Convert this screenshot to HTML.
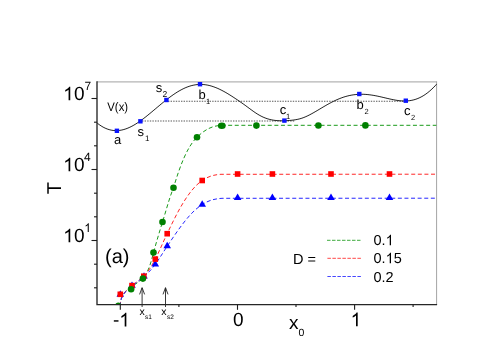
<!DOCTYPE html>
<html>
<head>
<meta charset="utf-8">
<style>
html,body{margin:0;padding:0;background:#fff;}
body{width:485px;height:343px;overflow:hidden;font-family:"Liberation Sans",sans-serif;}
svg{display:block;will-change:transform;}
text{font-family:"Liberation Sans",sans-serif;fill:#000;text-rendering:geometricPrecision;}
</style>
</head>
<body>
<svg width="485" height="343" viewBox="0 0 485 343">
<rect x="0" y="0" width="485" height="343" fill="#fff"/>
<defs>
<clipPath id="plot"><rect x="97" y="82" width="339.6" height="223"/></clipPath>
</defs>

<path d="M97.0 81.9 H436.6" fill="none" stroke="#b4b4b4" stroke-width="1.3"/>
<path d="M436.6 81.30000000000001 V304.6" fill="none" stroke="#a4a4a4" stroke-width="1"/>
<g stroke="#585858" stroke-width="1.1" stroke-dasharray="1.4 1.2" fill="none">
<line x1="142" y1="121" x2="295" y2="121"/>
<line x1="168" y1="101.3" x2="405" y2="101.3"/>
</g>
<path d="M97.1 123.00 L99.1 124.55 L101.1 125.92 L103.1 127.11 L105.1 128.12 L107.1 128.96 L109.1 129.62 L111.1 130.12 L113.1 130.44 L115.1 130.61 L117.1 130.61 L119.1 130.46 L121.1 130.16 L123.1 129.72 L125.1 129.14 L127.1 128.43 L129.1 127.59 L131.1 126.64 L133.1 125.57 L135.1 124.41 L137.1 123.15 L139.1 121.80 L141.1 120.38 L143.1 118.90 L145.1 117.36 L147.1 115.77 L149.1 114.14 L151.1 112.49 L153.1 110.81 L155.1 109.13 L157.1 107.44 L159.1 105.76 L161.1 104.10 L163.1 102.45 L165.1 100.84 L167.1 99.26 L169.1 97.73 L171.1 96.25 L173.1 94.82 L175.1 93.47 L177.1 92.18 L179.1 90.98 L181.1 89.86 L183.1 88.83 L185.1 87.90 L187.1 87.07 L189.1 86.35 L191.1 85.73 L193.1 85.24 L195.1 84.86 L197.1 84.59 L199.1 84.45 L201.1 84.42 L203.1 84.51 L205.1 84.71 L207.1 85.03 L209.1 85.45 L211.1 85.98 L213.1 86.61 L215.1 87.33 L217.1 88.14 L219.1 89.03 L221.1 90.00 L223.1 91.04 L225.1 92.14 L227.1 93.29 L229.1 94.50 L231.1 95.76 L233.1 97.04 L235.1 98.36 L237.1 99.70 L239.1 101.06 L241.1 102.44 L243.1 103.84 L245.1 105.28 L247.1 106.74 L249.1 108.22 L251.1 109.70 L253.1 111.15 L255.1 112.54 L257.1 113.85 L259.1 115.05 L261.1 116.14 L263.1 117.11 L265.1 117.95 L267.1 118.66 L269.1 119.26 L271.1 119.75 L273.1 120.13 L275.1 120.42 L277.1 120.62 L279.1 120.74 L281.1 120.79 L283.1 120.78 L285.1 120.72 L287.1 120.61 L289.1 120.47 L291.1 120.30 L293.1 120.08 L295.1 119.80 L297.1 119.45 L299.1 119.01 L301.1 118.45 L303.1 117.77 L305.1 116.98 L307.1 116.09 L309.1 115.11 L311.1 114.06 L313.1 112.95 L315.1 111.81 L317.1 110.63 L319.1 109.44 L321.1 108.24 L323.1 107.06 L325.1 105.88 L327.1 104.73 L329.1 103.62 L331.1 102.55 L333.1 101.52 L335.1 100.55 L337.1 99.64 L339.1 98.80 L341.1 98.02 L343.1 97.31 L345.1 96.67 L347.1 96.11 L349.1 95.62 L351.1 95.21 L353.1 94.87 L355.1 94.61 L357.1 94.42 L359.1 94.30 L361.1 94.26 L363.1 94.28 L365.1 94.37 L367.1 94.53 L369.1 94.74 L371.1 95.00 L373.1 95.31 L375.1 95.67 L377.1 96.06 L379.1 96.48 L381.1 96.93 L383.1 97.40 L385.1 97.87 L387.1 98.35 L389.1 98.81 L391.1 99.26 L393.1 99.68 L395.1 100.06 L397.1 100.39 L399.1 100.66 L401.1 100.86 L403.1 100.98 L405.1 101.01 L407.1 100.93 L409.1 100.75 L411.1 100.45 L413.1 100.03 L415.1 99.48 L417.1 98.79 L419.1 97.96 L421.1 96.98 L423.1 95.86 L425.1 94.58 L427.1 93.15 L429.1 91.56 L431.1 89.81 L433.1 87.90 L435.1 85.83 L436.6 84.18" fill="none" stroke="#151515" stroke-width="0.95" stroke-linejoin="round"/>
<g fill="#0a14ff">
<rect x="114.7" y="128.6" width="4.4" height="4.4"/>
<rect x="138.2" y="119.1" width="4.4" height="4.4"/>
<rect x="164.2" y="97.8" width="4.4" height="4.4"/>
<rect x="197.8" y="82.0" width="4.4" height="4.4"/>
<rect x="282.2" y="118.4" width="4.4" height="4.4"/>
<rect x="357.1" y="91.8" width="4.4" height="4.4"/>
<rect x="403.6" y="98.5" width="4.4" height="4.4"/>
</g>
<g fill="none" stroke-width="1" stroke-dasharray="4 2.6" clip-path="url(#plot)">
<path d="M120.2 306 C120.3 299 122 295.5 126 291 C130 287 138 283 142.9 278.6 C149 271 151 262 153.5 252.6 C157 240 160 230 162.5 222 C166 211 169 199 173.5 187.7 C180 166 187 147 197 137.2 C205 129.5 212 125.7 221.8 125.3 L436.6 125.3" stroke="#1a9a1a"/>
<path d="M120.2 306 C120.3 299 122 295.5 126 290.8 C130 286.6 138 281.5 143.8 276.2 C149 271.2 152 265 155.3 259.1 C160 250 163 242 167.2 233.7 C176 215 188 190 202.2 180.5 C207 177.3 212 174.8 221 174.3 L436.6 174.2" stroke="#ff2626"/>
<path d="M120.2 306 C120.3 299 122 295.5 126 290.6 C130 286.4 138 281 144 276 C149 271.7 152 268 155.3 263.8 C160 257 163 252 167.2 245.6 C177 231 190 211 202.2 204.1 C207 200.8 212 198.4 222 197.7 L436.6 197.6" stroke="#2626ff" transform="translate(0 0.6)"/>
</g>
<g fill="#0000ff">
<path d="M120.3 290.3 L124.1 296.7 L116.5 296.7 Z"/>
<path d="M132.0 281.4 L135.8 287.8 L128.2 287.8 Z"/>
<path d="M144.0 272.2 L147.8 278.6 L140.2 278.6 Z"/>
<path d="M155.3 260.0 L159.1 266.4 L151.5 266.4 Z"/>
<path d="M167.2 241.8 L171.0 248.2 L163.4 248.2 Z"/>
<path d="M202.2 200.3 L206.0 206.7 L198.4 206.7 Z"/>
<path d="M237.6 193.6 L241.4 200.0 L233.8 200.0 Z"/>
<path d="M272.4 193.6 L276.2 200.0 L268.6 200.0 Z"/>
<path d="M331.0 193.6 L334.8 200.0 L327.2 200.0 Z"/>
<path d="M389.5 193.6 L393.3 200.0 L385.7 200.0 Z"/>
</g>
<g fill="#ff0000">
<rect x="117.5" y="291.5" width="5.6" height="5.6"/>
<rect x="129.2" y="282.8" width="5.6" height="5.6"/>
<rect x="141.0" y="273.4" width="5.6" height="5.6"/>
<rect x="152.5" y="256.3" width="5.6" height="5.6"/>
<rect x="164.4" y="230.9" width="5.6" height="5.6"/>
<rect x="199.4" y="177.7" width="5.6" height="5.6"/>
<rect x="234.8" y="171.2" width="5.6" height="5.6"/>
<rect x="269.6" y="171.2" width="5.6" height="5.6"/>
<rect x="328.2" y="171.2" width="5.6" height="5.6"/>
<rect x="386.7" y="171.2" width="5.6" height="5.6"/>
</g>
<g fill="#008000" clip-path="url(#plot)">
<circle cx="118.4" cy="305.8" r="3.3"/>
<circle cx="131.1" cy="289.2" r="3.3"/>
<circle cx="142.9" cy="278.6" r="3.3"/>
<circle cx="153.5" cy="252.6" r="3.3"/>
<circle cx="162.5" cy="222" r="3.3"/>
<circle cx="173.5" cy="187.7" r="3.3"/>
<circle cx="197" cy="137.2" r="3.3"/>
<ellipse cx="221.8" cy="125.7" rx="3.9" ry="3.3"/>
<circle cx="256.4" cy="125.6" r="3.3"/>
<circle cx="318.4" cy="125.5" r="3.3"/>
<circle cx="365.4" cy="125.4" r="3.3"/>
</g>
<path d="M97.0 81.30000000000001 V304.6 H437.1" fill="none" stroke="#262626" stroke-width="1.35"/>
<g stroke="#1c1c1c" stroke-width="1.1">
<line x1="91.5" y1="98.5" x2="97.0" y2="98.5"/>
<line x1="94.0" y1="122.2" x2="97.0" y2="122.2"/>
<line x1="94.0" y1="145.8" x2="97.0" y2="145.8"/>
<line x1="91.5" y1="169.5" x2="97.0" y2="169.5"/>
<line x1="94.0" y1="193.2" x2="97.0" y2="193.2"/>
<line x1="94.0" y1="216.8" x2="97.0" y2="216.8"/>
<line x1="91.5" y1="240.5" x2="97.0" y2="240.5"/>
<line x1="94.0" y1="264.2" x2="97.0" y2="264.2"/>
<line x1="94.0" y1="287.8" x2="97.0" y2="287.8"/>
<line x1="120.3" y1="304.6" x2="120.3" y2="309.8"/>
<line x1="178.9" y1="304.6" x2="178.9" y2="307.1"/>
<line x1="237.5" y1="304.6" x2="237.5" y2="309.8"/>
<line x1="296.0" y1="304.6" x2="296.0" y2="307.1"/>
<line x1="354.6" y1="304.6" x2="354.6" y2="309.8"/>
<line x1="413.1" y1="304.6" x2="413.1" y2="307.1"/>
</g>
<g stroke="#222" stroke-width="0.9" fill="none">
<path d="M142.1 307 V288 M139.6 294.4 L142.1 287.6 L144.6 294.4"/>
<path d="M165.5 307 V288 M163 294.4 L165.5 287.6 L168 294.4"/>
</g>
<g font-size="19">
<path transform="translate(60.00 100.30) scale(0.00928 -0.00928)" fill="#000" d="M1105 0 H925 V1147 Q860 1085 754.5 1023 T565 930 V1104 Q715 1175 827 1275 T986 1469 H1105 Z"/>
<text x="73.9" y="100.3">0</text>
<text x="84.6" y="90.2" font-size="12">7</text>
<path transform="translate(60.00 171.30) scale(0.00928 -0.00928)" fill="#000" d="M1105 0 H925 V1147 Q860 1085 754.5 1023 T565 930 V1104 Q715 1175 827 1275 T986 1469 H1105 Z"/>
<text x="73.9" y="171.3">0</text>
<text x="84.1" y="161.0" font-size="12">4</text>
<path transform="translate(60.00 242.30) scale(0.00928 -0.00928)" fill="#000" d="M1105 0 H925 V1147 Q860 1085 754.5 1023 T565 930 V1104 Q715 1175 827 1275 T986 1469 H1105 Z"/>
<text x="73.9" y="242.3">0</text>
<path transform="translate(82.30 231.90) scale(0.00586 -0.00586)" fill="#000" d="M1105 0 H925 V1147 Q860 1085 754.5 1023 T565 930 V1104 Q715 1175 827 1275 T986 1469 H1105 Z"/>
<text x="113.1" y="326.4">-</text>
<path transform="translate(116.10 326.40) scale(0.00928 -0.00928)" fill="#000" d="M1105 0 H925 V1147 Q860 1085 754.5 1023 T565 930 V1104 Q715 1175 827 1275 T986 1469 H1105 Z"/>
<text x="238.4" y="326.2" text-anchor="middle">0</text>
<path transform="translate(347.43 326.20) scale(0.00928 -0.00928)" fill="#000" d="M1105 0 H925 V1147 Q860 1085 754.5 1023 T565 930 V1104 Q715 1175 827 1275 T986 1469 H1105 Z"/>
<text x="289" y="329">x</text><text x="298.5" y="335.6" font-size="10.5">0</text>
</g>
<text transform="translate(60.9 188.1) rotate(-90)" font-size="20" text-anchor="middle">T</text>
<text x="105" y="262.8" font-size="20">(a)</text>
<text x="107.3" y="111.3" font-size="12.5" textLength="20.8" lengthAdjust="spacingAndGlyphs">V(x)</text>
<g font-size="13">
<text x="114" y="143.8">a</text>
<text x="137.6" y="136.2">s</text><text x="145" y="140.8" font-size="8">1</text>
<text x="155.8" y="91.8">s</text><text x="162.5" y="96.8" font-size="8.5">2</text>
<text x="198.6" y="98.8">b</text><text x="206" y="104" font-size="7.5">1</text>
<text x="279.7" y="113.6">c</text><text x="286" y="119.1" font-size="7.5">1</text>
<text x="356.4" y="108.7">b</text><text x="364.6" y="114.2" font-size="7.5">2</text>
<text x="403.9" y="114.8">c</text><text x="411" y="119.9" font-size="7.5">2</text>
</g>
<g font-size="10.5">
<text x="139.4" y="314.6">x</text><text x="145" y="319" font-size="6.5">s1</text>
<text x="161.2" y="314.6">x</text><text x="167" y="319" font-size="6.5">s2</text>
</g>
<g fill="none" stroke-width="0.85" stroke-dasharray="3.5 1.5">
<line x1="327" y1="240.3" x2="361" y2="240.3" stroke="#1a9a1a"/>
<line x1="327.4" y1="258.3" x2="361" y2="258.3" stroke="#ff2626"/>
<line x1="327.4" y1="276.5" x2="361" y2="276.5" stroke="#2626ff"/>
</g>
<g font-size="14.5">
<text x="373.5" y="245.2">0.</text><path transform="translate(383.17 245.20) scale(0.00708 -0.00708)" fill="#000" d="M1105 0 H925 V1147 Q860 1085 754.5 1023 T565 930 V1104 Q715 1175 827 1275 T986 1469 H1105 Z"/>
<text x="373.5" y="263.2">0.</text><path transform="translate(383.17 263.20) scale(0.00708 -0.00708)" fill="#000" d="M1105 0 H925 V1147 Q860 1085 754.5 1023 T565 930 V1104 Q715 1175 827 1275 T986 1469 H1105 Z"/><text x="393.65" y="263.2">5</text>
<text x="373.5" y="282">0.2</text>
<text x="293" y="264">D =</text>
</g>
</svg>
</body>
</html>
